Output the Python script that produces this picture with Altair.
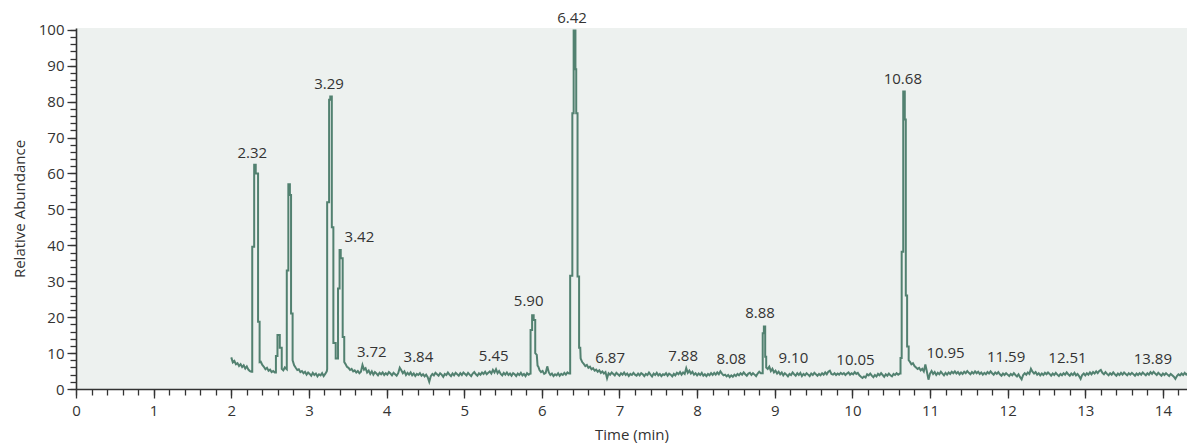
import altair as alt
import numpy as np
import pandas as pd

# ---------------- data ----------------
# baseline noise segments: (start min, end min, abundance values sampled evenly)
seg_a = (2.00, 2.26, [8.8, 7.4, 7.8, 6.9, 7.2, 6.4, 6.9, 6.1, 6.6, 5.7, 6.3, 5.4, 5.0, 4.8])
seg_b = (2.38, 2.56, [7.6, 6.7, 6.2, 5.5, 5.9, 5.1, 5.4, 4.7, 5.0, 4.6])
seg_c = (2.81, 3.23, [6.6, 5.9, 5.3, 5.5, 4.7, 5.0, 4.4, 4.8, 4.0, 4.6, 4.2, 3.7, 4.5, 3.9, 4.3, 3.5,
                      4.1, 3.8, 4.4, 3.6, 4.2, 4.9])
seg_d = (3.47, 5.85, [7.0, 6.2, 5.9, 5.3, 5.6, 4.9, 5.2, 4.6, 5.0, 4.4, 4.8, 6.7, 5.4, 5.8, 4.6, 5.1,
                      4.2, 4.9, 4.0, 4.7, 4.3, 3.8, 4.5, 4.1, 4.6, 3.9, 4.4, 4.0, 4.7, 4.3, 3.8, 4.5,
                      4.1, 3.7, 4.4, 5.9, 5.2, 4.4, 4.9, 3.9, 4.5, 4.0, 4.6, 3.8, 4.3, 3.6, 4.2, 3.9,
                      4.4, 3.7, 4.1, 3.5, 4.0, 3.3, 2.0, 3.6, 4.2, 3.8, 4.5, 4.1, 3.7, 4.4, 4.0, 3.4,
                      4.2, 3.9, 4.6, 4.0, 3.6, 4.3, 3.8, 4.5, 4.1, 3.7, 4.4, 3.9, 4.6, 4.2, 3.8, 4.5,
                      4.0, 3.6, 4.3, 4.7, 4.1, 3.7, 4.4, 4.0, 4.6, 4.2, 4.8, 4.1, 4.5, 4.9, 4.3, 5.3,
                      4.6, 5.5, 4.4, 5.0, 4.2, 3.8, 4.5, 4.0, 4.6, 3.9, 4.3, 3.7, 4.4, 4.1, 3.6, 4.3,
                      3.9, 4.5, 3.8, 4.2, 3.6, 4.4, 4.0, 4.3])
seg_e = (5.97, 6.35, [5.3, 4.7, 5.0, 4.2, 4.5, 6.3, 4.6, 3.9, 4.3, 3.6, 4.1, 3.8, 4.4, 3.7, 4.2, 3.9,
                      4.5, 4.0, 4.6, 4.3])
seg_f = (6.54, 8.82, [7.0, 6.4, 6.7, 5.9, 6.2, 5.5, 5.8, 5.1, 5.4, 4.8, 5.2, 4.5, 4.9, 4.3, 4.7, 3.0,
                      4.4, 4.0, 4.6, 4.2, 3.8, 4.5, 4.1, 3.7, 4.4, 4.0, 4.6, 3.9, 4.3, 3.6, 4.2, 3.9,
                      4.5, 4.0, 3.7, 4.3, 3.8, 4.4, 4.1, 3.6, 4.2, 3.9, 4.6, 4.0, 3.5, 4.3, 3.9, 4.5,
                      3.8, 4.2, 3.6, 4.1, 3.9, 4.4, 3.7, 4.3, 4.0, 3.5, 4.2, 3.8, 4.5, 4.1, 4.7, 4.0,
                      4.6, 4.2, 5.8, 4.5, 5.1, 4.3, 4.8, 4.0, 4.4, 3.8, 4.3, 3.9, 4.5, 3.7, 4.1, 3.6,
                      4.2, 3.8, 4.4, 3.9, 4.5, 4.0, 4.6, 4.1, 4.9, 4.3, 3.8, 4.0, 3.5, 3.9, 3.3, 3.8,
                      3.4, 4.0, 3.6, 4.2, 3.8, 4.4, 4.0, 4.6, 4.1, 3.7, 4.3, 4.5, 3.9, 4.4, 4.0, 3.6,
                      4.3, 4.8, 4.4])
seg_g = (8.93, 10.61, [6.2, 5.0, 5.6, 4.6, 5.1, 4.3, 4.8, 4.1, 4.6, 3.8, 4.4, 4.0, 3.5, 4.2, 3.9, 4.6,
                       4.1, 3.7, 4.4, 3.9, 4.5, 3.6, 4.2, 3.8, 4.4, 4.0, 3.6, 4.3, 3.9, 4.5, 4.1, 3.7,
                       4.2, 3.8, 4.4, 4.0, 4.6, 4.1, 4.8, 5.1, 4.2, 4.0, 4.4, 3.9, 4.3, 4.0, 4.5, 4.1,
                       4.4, 3.9, 4.3, 4.6, 4.0, 4.4, 4.1, 4.7, 4.2, 4.5, 3.8, 3.4, 3.1, 3.5, 3.2, 4.1,
                       3.8, 4.3, 3.7, 3.3, 3.9, 3.5, 4.2, 3.8, 4.4, 3.9, 3.4, 4.1, 3.7, 4.3, 3.8, 3.5,
                       4.2, 3.9, 4.4, 4.0, 4.3])
seg_h = (10.74, 14.42, [7.6, 6.9, 7.2, 6.4, 6.0, 5.6, 5.9, 5.2, 5.6, 4.9, 6.8, 4.8, 2.6, 4.3, 5.0, 4.2,
                        4.7, 3.9, 4.5, 4.1, 4.8, 4.3, 3.8, 4.5, 4.0, 4.6, 4.2, 4.8, 4.4, 4.9, 4.3, 4.7,
                        4.1, 4.6, 4.2, 4.8, 4.4, 5.0, 4.5, 4.1, 4.7, 4.3, 4.9, 4.4, 4.8, 4.2, 4.6, 4.0,
                        4.5, 4.1, 4.7, 4.3, 4.9, 4.4, 4.0, 4.6, 4.2, 4.7, 4.1, 3.7, 4.3, 3.9, 4.4, 4.0,
                        3.6, 4.2, 3.8, 4.4, 3.9, 3.5, 4.1, 3.3, 2.7, 3.9, 4.4, 4.0, 4.6, 4.2, 5.6, 4.8,
                        4.3, 4.7, 4.0, 4.4, 3.8, 4.3, 3.9, 4.5, 4.1, 4.6, 4.2, 3.7, 4.3, 3.9, 4.5, 4.0,
                        3.6, 4.2, 3.8, 4.4, 4.0, 4.6, 4.1, 3.7, 4.3, 3.9, 4.5, 3.8, 4.2, 3.6, 2.8, 3.9,
                        4.3, 3.8, 4.4, 4.0, 4.6, 4.1, 4.7, 4.3, 4.9, 4.4, 5.0, 5.3, 4.5, 4.1, 4.7, 4.2,
                        3.8, 4.4, 4.0, 4.6, 4.1, 3.7, 4.3, 3.9, 4.5, 4.0, 4.6, 4.2, 3.8, 4.4, 4.0, 4.5,
                        4.1, 3.7, 4.3, 3.9, 4.4, 4.0, 4.6, 4.2, 3.8, 4.4, 4.0, 4.7, 4.2, 4.8, 4.3, 3.9,
                        4.5, 4.1, 3.7, 4.3, 3.9, 4.4, 4.0, 3.6, 4.2, 3.8, 3.4, 2.8, 3.6, 4.1, 3.8, 4.3,
                        3.9, 4.5, 4.0, 4.4, 3.8, 4.2, 3.7, 4.1, 3.9])

# peak vertices (time in min, relative abundance)
peak_232_t = [2.27, 2.27, 2.295, 2.295, 2.315, 2.315, 2.345, 2.345, 2.365, 2.365]
peak_232_v = [4.8, 39.6, 39.6, 62.4, 62.4, 60.0, 60.0, 18.7, 18.7, 7.5]
peak_260_t = [2.575, 2.575, 2.595, 2.595, 2.625, 2.625, 2.65, 2.65, 2.67, 2.69]
peak_260_v = [4.6, 9.2, 9.2, 15.0, 15.0, 11.5, 11.5, 5.6, 5.2, 6.0]
peak_274_t = [2.715, 2.715, 2.735, 2.735, 2.755, 2.755, 2.77, 2.77, 2.79, 2.79]
peak_274_v = [5.5, 33.0, 33.0, 57.0, 57.0, 54.0, 54.0, 21.0, 21.0, 8.0]
peak_329_t = [3.235, 3.235, 3.26, 3.26, 3.275, 3.275, 3.295, 3.295, 3.315, 3.315, 3.345, 3.345]
peak_329_v = [5.5, 52.0, 52.0, 80.5, 80.5, 81.4, 81.4, 45.0, 45.0, 12.8, 12.8, 8.5]
peak_342_t = [3.375, 3.375, 3.395, 3.395, 3.41, 3.41, 3.435, 3.435, 3.455, 3.455]
peak_342_v = [8.5, 28.0, 28.0, 38.7, 38.7, 36.4, 36.4, 14.5, 14.5, 7.5]
peak_590_t = [5.855, 5.855, 5.875, 5.875, 5.895, 5.895, 5.915, 5.915, 5.935, 5.945, 5.955]
peak_590_v = [4.3, 16.4, 16.4, 20.5, 20.5, 19.2, 19.2, 10.0, 9.5, 6.5, 6.2]
peak_642_t = [6.365, 6.365, 6.393, 6.393, 6.41, 6.41, 6.433, 6.433, 6.443, 6.443, 6.46, 6.46,
              6.48, 6.48, 6.495, 6.50, 6.52]
peak_642_v = [4.3, 31.5, 31.5, 76.8, 76.8, 99.8, 99.8, 89.0, 89.0, 76.8, 76.8, 31.3,
              31.3, 11.5, 11.5, 8.5, 7.5]
peak_888_t = [8.845, 8.845, 8.86, 8.86, 8.877, 8.877, 8.89, 8.89, 8.91]
peak_888_v = [4.4, 15.5, 15.5, 17.4, 17.4, 9.0, 9.0, 6.0, 5.6]
peak_1068_t = [10.62, 10.62, 10.635, 10.635, 10.655, 10.655, 10.675, 10.675, 10.688, 10.688,
               10.705, 10.705, 10.725, 10.725]
peak_1068_v = [4.3, 8.6, 8.6, 38.2, 38.2, 82.8, 82.8, 75.0, 75.0, 26.0, 26.0, 11.8, 11.8, 8.0]

# peak annotations
label_text = ["2.32", "3.29", "3.42", "5.90", "6.42", "8.88", "10.68", "3.72", "3.84", "5.45",
              "6.87", "7.88", "8.08", "9.10", "10.05", "10.95", "11.59", "12.51", "13.89"]
label_x = [2.27, 3.26, 3.65, 5.83, 6.39, 8.81, 10.65, 3.81, 4.41, 5.38,
           6.88, 7.82, 8.44, 9.24, 10.04, 11.20, 11.98, 12.77, 13.87]
label_y = [65.8, 84.9, 42.3, 24.6, 103.2, 21.1, 86.4, 10.2, 9.0, 9.3,
           8.7, 9.2, 8.3, 8.7, 8.1, 10.1, 9.0, 8.7, 8.4]

x_major = list(range(0, 15))
y_major = list(range(0, 101, 10))

# ---------------- build table ----------------
def seg(s):
    a, b, vals = s
    return list(np.linspace(a, b, len(vals))), list(vals)

parts = [seg(seg_a), (peak_232_t, peak_232_v), seg(seg_b), (peak_260_t, peak_260_v),
         (peak_274_t, peak_274_v), seg(seg_c), (peak_329_t, peak_329_v), (peak_342_t, peak_342_v),
         seg(seg_d), (peak_590_t, peak_590_v), seg(seg_e), (peak_642_t, peak_642_v), seg(seg_f),
         (peak_888_t, peak_888_v), seg(seg_g), (peak_1068_t, peak_1068_v), seg(seg_h)]
ts, vs = [], []
for t, v in parts:
    ts += list(t)
    vs += list(v)
df = pd.DataFrame({"t": ts, "v": vs, "i": range(len(ts))})
lab = pd.DataFrame({"label": label_text, "x": label_x, "y": label_y})

x_minor = [round(k * 0.2, 1) for k in range(0, 72)]
y_minor = list(range(0, 101, 2))

FONT = "Open Sans"
INK = "#333333"
xs = alt.Scale(domain=[0, 14.31], nice=False, zero=False)
ys = alt.Scale(domain=[0, 100.5], nice=False)

minor = alt.Chart(df).mark_line(opacity=0).encode(
    x=alt.X("t:Q", scale=xs, axis=alt.Axis(values=x_minor, labels=False, tickSize=6, domain=False,
                                           grid=False, title=None, orient="bottom", tickColor=INK,
                                           tickWidth=1.3)),
    y=alt.Y("v:Q", scale=ys, axis=alt.Axis(values=y_minor, labels=False, tickSize=6, domain=False,
                                           grid=False, title=None, orient="left", tickColor=INK,
                                           tickWidth=1.3)),
)

line = alt.Chart(df).mark_line(color="#528170", strokeWidth=2, clip=True).encode(
    x=alt.X("t:Q", scale=xs, axis=alt.Axis(values=x_major, title="Time (min)", tickSize=9, grid=False,
                                           orient="bottom", labelPadding=5, titlePadding=9,
                                           labelFlush=False, format="d")),
    y=alt.Y("v:Q", scale=ys, axis=alt.Axis(values=y_major, title="Relative Abundance", tickSize=9,
                                           grid=False, orient="left", labelPadding=3,
                                           labelFlush=False, titlePadding=11, format="d")),
    order="i:Q",
)

texts = alt.Chart(lab).mark_text(font=FONT, fontSize=15, color=INK, align="center",
                                 baseline="middle").encode(
    x=alt.X("x:Q", scale=xs, axis=None),
    y=alt.Y("y:Q", scale=ys, axis=None),
    text="label:N",
)

chart = alt.layer(minor, line, texts).resolve_axis(x="independent", y="independent").properties(
    width=1111, height=361, autosize="none",
    padding={"left": 68, "top": 20, "right": 0, "bottom": 55},
).configure_view(fill="#EDF1EF", strokeWidth=0).configure_axis(
    labelFont=FONT, labelFontSize=15, labelColor=INK, titleFont=FONT, titleFontSize=15,
    titleFontWeight="normal", titleColor=INK, domainColor=INK, domainWidth=1.6, tickColor=INK,
    tickWidth=1.3,
)

chart.save("out.html", embed_options={"renderer": "svg", "actions": False})
